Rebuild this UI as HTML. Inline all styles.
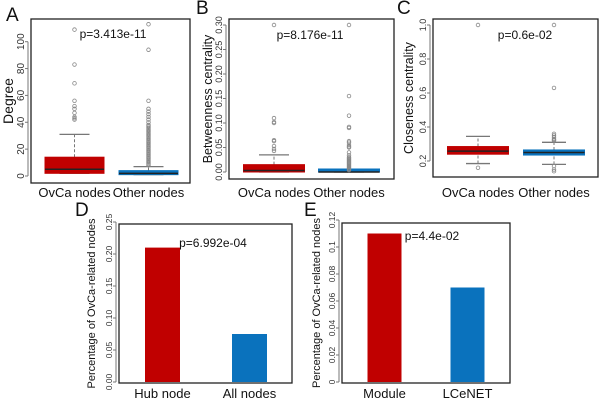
<!DOCTYPE html>
<html><head><meta charset="utf-8"><style>
html,body{margin:0;padding:0;background:#fff;}
svg{display:block;font-family:"Liberation Sans",Arial,sans-serif;}
</style></head><body>
<svg id="fig" width="600" height="403" viewBox="0 0 600 403"></svg>
<script>
// ---- Data ----
const boxCats = ["OvCa nodes", "Other nodes"];
// Panel A: Degree  [whiskerLow, q1, median, q3, whiskerHigh]
const degreeStats = [[2, 2, 5, 14, 31], [1, 1, 2, 4, 7]];
const degreeOutliers = [[42, 43, 44, 47, 50, 52, 56, 69, 83, 109],
  [8,9,10,11,12,13,14,15,16,17,18,19,20,21,22,23,24,25,26,27,28,29,30,31,32,33,34,35,36,37,38,40,42,44,46,48,50,56,94,113]];
const degreeTicks = [0, 20, 40, 60, 80, 100];
// Panel B: Betweenness
const betwStats = [[0, 0, 0.003, 0.015, 0.035], [0, 0, 0, 0.001, 0.003]];
const betwOutliers = [[0.043, 0.047, 0.053, 0.063, 0.065, 0.1, 0.102, 0.11, 0.3],
  [0.004,0.006,0.008,0.01,0.012,0.014,0.016,0.018,0.02,0.022,0.024,0.026,0.028,0.03,0.034,0.04,0.05,0.052,0.055,0.06,0.063,0.09,0.092,0.115,0.155,0.3]];
const betwTicks = [0, 0.05, 0.10, 0.15, 0.20, 0.25, 0.30];
const betwTickLabels = ["0.00", "0.05", "0.10", "0.15", "0.20", "0.25", "0.30"];
// Panel C: Closeness
const closeStats = [[0.185, 0.24, 0.258, 0.285, 0.345], [0.18, 0.235, 0.25, 0.265, 0.31]];
const closeOutliers = [[0.16, 1.0], [0.14, 0.15, 0.17, 0.32, 0.325, 0.33, 0.34, 0.35, 0.36, 0.63, 1.0]];
const closeTicks = [0.2, 0.4, 0.6, 0.8, 1.0];
const closeTickLabels = ["0.2", "0.4", "0.6", "0.8", "1.0"];
// Panel D
const dCats = ["Hub node", "All nodes"];
const dValues = [0.21, 0.075];
const dTicks = [0, 0.05, 0.10, 0.15, 0.20, 0.25];
const dTickLabels = ["0.00", "0.05", "0.10", "0.15", "0.20", "0.25"];
// Panel E
const eCats = ["Module", "LCeNET"];
const eValues = [0.11, 0.07];
const eTicks = [0, 0.02, 0.04, 0.06, 0.08, 0.1, 0.12];
const eTickLabels = ["0", "0.02", "0.04", "0.06", "0.08", "0.1", "0.12"];

const RED = "#c00000", BLUE = "#0a72bd";
const colors = [RED, BLUE];
const svg = document.getElementById('fig');
const NS = "http://www.w3.org/2000/svg";
function mk(tag, attrs, parent) {
  const e = document.createElementNS(NS, tag);
  for (const k in attrs) e.setAttribute(k, attrs[k]);
  (parent || svg).appendChild(e);
  return e;
}
function txt(s, attrs, parent) { const t = mk('text', attrs, parent); t.textContent = s; return t; }

function frame(p) {
  const g = mk('g', {});
  
  
  const r = mk('rect', {x: p.x0, y: p.y0, width: p.x1 - p.x0, height: p.y1 - p.y0, fill: 'none', stroke: '#222', 'stroke-width': 1.3}, g);
  
  
  const ys = v => p.yb + (v - p.vmin) / (p.vmax - p.vmin) * (p.yt - p.yb);
  const ax = mk('g', {}, g);
  
  
  mk('line', {x1: p.x0 - 3, x2: p.x0 - 3, y1: ys(p.ticks[0]), y2: ys(p.ticks[p.ticks.length - 1]), stroke: '#777'}, ax);
  p.ticks.forEach((t, i) => {
    const y = ys(t);
    mk('line', {x1: p.x0 - 6, x2: p.x0 - 3, y1: y, y2: y, stroke: '#777'}, ax);
    const lx = p.x0 - 7;
    const lb = txt(p.labels ? p.labels[i] : String(t), {x: lx, y: y, transform: `rotate(-90 ${lx} ${y})`, 'text-anchor': 'middle', 'font-size': p.tfs || 10, fill: '#333'}, ax);
    
    
  });
  const yl = txt(p.ylabel, {x: p.ylx, y: (p.y0 + p.y1) / 2, transform: `rotate(-90 ${p.ylx} ${(p.y0 + p.y1) / 2})`, 'text-anchor': 'middle', 'font-size': p.yfs, fill: '#111'}, g);
  
  
  const pl = txt(p.letter, {x: p.lx, y: p.ly, 'font-size': 19, fill: '#111'}, g);
  
  
  const pv = txt(p.ptext, {x: p.px, y: p.py, 'text-anchor': 'middle', 'font-size': 12, fill: '#111'}, g);
  
  
  p.cats.forEach((c, i) => {
    const cl = txt(c, {x: p.cx[i], y: p.cly, 'text-anchor': 'middle', 'font-size': 13, fill: '#111'}, g);
    
    
  });
  return {g, ys};
}

function boxPanel(p, stats, outs) {
  const {g, ys} = frame(p);
  stats.forEach((s, i) => {
    const cx = p.cx[i], hw = p.bw / 2, cw = p.cw / 2;
    const b = mk('g', {}, g);
    
    
    mk('line', {x1: cx, x2: cx, y1: ys(s[0]), y2: ys(s[1]), stroke: '#777', 'stroke-dasharray': '3,2'}, b);
    mk('line', {x1: cx, x2: cx, y1: ys(s[3]), y2: ys(s[4]), stroke: '#777', 'stroke-dasharray': '3,2'}, b);
    mk('line', {x1: cx - cw, x2: cx + cw, y1: ys(s[0]), y2: ys(s[0]), stroke: '#777', 'stroke-width': 1.3}, b);
    mk('line', {x1: cx - cw, x2: cx + cw, y1: ys(s[4]), y2: ys(s[4]), stroke: '#777', 'stroke-width': 1.3}, b);
    const h = Math.max(ys(s[1]) - ys(s[3]), 3);
    mk('rect', {x: cx - hw, y: ys(s[1]) - h, width: 2 * hw, height: h, fill: colors[i], stroke: colors[i]}, b);
    mk('line', {x1: cx - hw, x2: cx + hw, y1: ys(s[2]), y2: ys(s[2]), stroke: '#222', 'stroke-width': 1.5}, b);
    outs[i].forEach(v => {
      const c = mk('circle', {cx: cx, cy: ys(v), r: 1.8, fill: 'none', stroke: '#888', 'stroke-width': 0.8}, b);
      
      
    });
  });
}

function barPanel(p, vals) {
  const {g, ys} = frame(p);
  vals.forEach((v, i) => {
    const r = mk('rect', {x: p.cx[i] - p.bw / 2, y: ys(v), width: p.bw, height: ys(0) - ys(v), fill: colors[i]}, g);
    
    
  });
}

boxPanel({name: 'panel-a-degree', x0: 31, x1: 190, y0: 19, y1: 183, yb: 176, yt: 41.7, vmin: 0, vmax: 100, ticks: degreeTicks,
  ylabel: 'Degree', ylx: 13, yfs: 14, letter: 'A', lx: 6, ly: 21, ptext: 'p=3.413e-11', px: 113, py: 38,
  cats: boxCats, cx: [74.5, 148.5], cly: 197, bw: 59, cw: 30}, degreeStats, degreeOutliers);

boxPanel({name: 'panel-b-betweenness', x0: 229, x1: 394, y0: 19, y1: 179, yb: 172, yt: 25, vmin: 0, vmax: 0.30, ticks: betwTicks, labels: betwTickLabels, tfs: 9,
  ylabel: 'Betweenness centrality', ylx: 212, yfs: 12.5, letter: 'B', lx: 196, ly: 14, ptext: 'p=8.176e-11', px: 310, py: 39,
  cats: boxCats, cx: [274, 349], cly: 197, bw: 61, cw: 30}, betwStats, betwOutliers);

boxPanel({name: 'panel-c-closeness', x0: 433, x1: 598, y0: 19, y1: 177, yb: 161, yt: 25, vmin: 0.2, vmax: 1.0, ticks: closeTicks, labels: closeTickLabels, tfs: 9,
  ylabel: 'Closeness centrality', ylx: 413, yfs: 12.5, letter: 'C', lx: 397, ly: 14, ptext: 'p=0.6e-02', px: 525, py: 39,
  cats: boxCats, cx: [478, 554], cly: 197, bw: 61, cw: 24}, closeStats, closeOutliers);

barPanel({name: 'panel-d-hub-bars', x0: 119, x1: 292, y0: 224, y1: 383, yb: 382, yt: 222, vmin: 0, vmax: 0.25, ticks: dTicks, labels: dTickLabels, tfs: 8.5,
  ylabel: 'Percentage of OvCa-related nodes', ylx: 95, yfs: 11, letter: 'D', lx: 75, ly: 216, ptext: 'p=6.992e-04', px: 213, py: 247,
  cats: dCats, cx: [162.5, 249.5], cly: 398, bw: 35}, dValues);

barPanel({name: 'panel-e-module-bars', x0: 342, x1: 510, y0: 223, y1: 383, yb: 382, yt: 220, vmin: 0, vmax: 0.12, ticks: eTicks, labels: eTickLabels, tfs: 8.5,
  ylabel: 'Percentage of OvCa-related nodes', ylx: 320, yfs: 11, letter: 'E', lx: 304, ly: 216, ptext: 'p=4.4e-02', px: 432, py: 240,
  cats: eCats, cx: [384.5, 467.5], cly: 398, bw: 34}, eValues);
</script>
</body></html>
